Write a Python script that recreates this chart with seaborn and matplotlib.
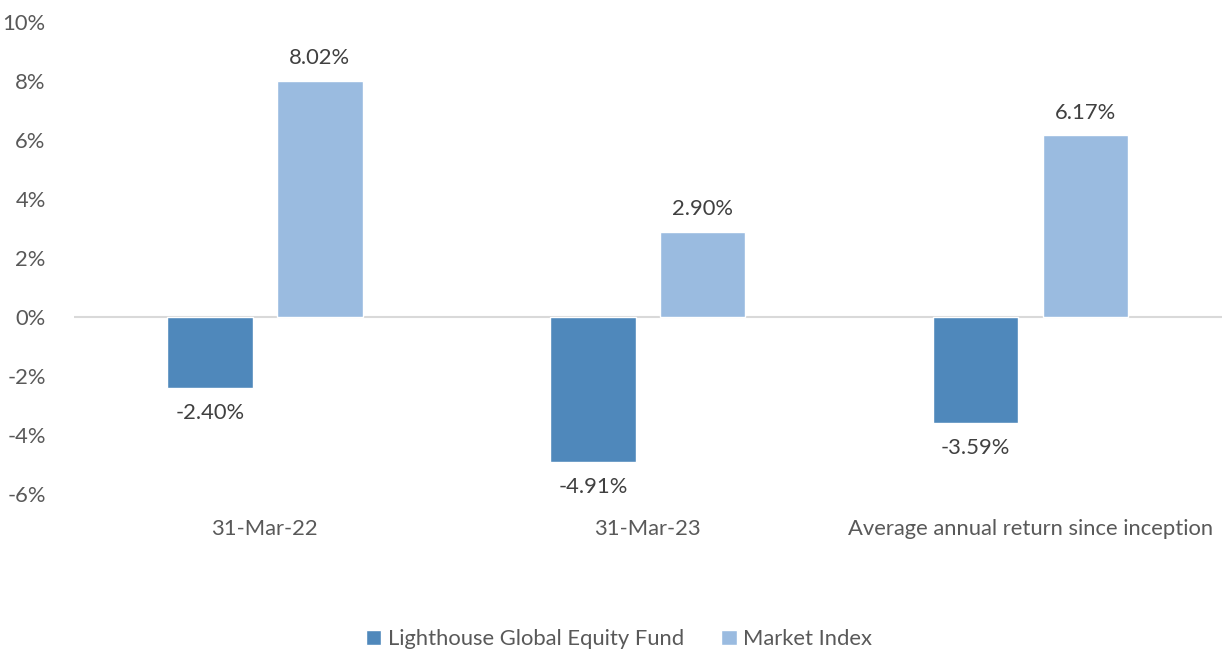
import pandas as pd
import numpy as np
import seaborn as sns
import matplotlib.pyplot as plt
from matplotlib.ticker import FuncFormatter

categories = ["31-Mar-22", "31-Mar-23", "Average annual return since inception"]
series = ["Lighthouse Global Equity Fund", "Market Index"]
fund = [-2.40, -4.91, -3.59]
index = [8.02, 2.90, 6.17]

df = pd.DataFrame({
    "period": categories * 2,
    "series": [series[0]] * 3 + [series[1]] * 3,
    "value": fund + index,
})

sns.set_theme(style="white")
plt.rcParams["font.family"] = ["Lato", "DejaVu Sans"]

fig = plt.figure(figsize=(12.25, 6.53), dpi=100)
ax = fig.add_axes([0.06, 0.2435, 0.9375, 0.7225])

palette = {series[0]: "#4F88BB", series[1]: "#9ABBE0"}
sns.barplot(data=df, x="period", y="value", hue="series", palette=palette,
            width=0.573, gap=0.22, saturation=1, ax=ax, legend=True)

fs = 15.8
ax.set_ylim(-6, 10)
ax.set_yticks(np.arange(-6, 11, 2))
ax.yaxis.set_major_formatter(FuncFormatter(lambda v, p: f"{v:.0f}%"))
ax.tick_params(axis="y", length=0, pad=20, labelsize=fs, labelcolor="#595959")
ax.tick_params(axis="x", length=0, pad=18, labelsize=fs, labelcolor="#595959")
ax.set_xlabel("")
ax.set_ylabel("")
for s in ax.spines.values():
    s.set_visible(False)
ax.axhline(0, color="#D9D9D9", lw=1.5, zorder=0)

# data labels above / below each bar
for cont in ax.containers:
    for bar in cont:
        v = bar.get_height()
        x = bar.get_x() + bar.get_width() / 2
        if v >= 0:
            ax.annotate(f"{v:.2f}%", (x, v), xytext=(0, 9), textcoords="offset points",
                        ha="center", va="bottom", fontsize=fs, color="#404040")
        else:
            ax.annotate(f"{v:.2f}%", (x, v), xytext=(0, -11), textcoords="offset points",
                        ha="center", va="top", fontsize=fs, color="#404040")

ax.legend(loc="upper center", bbox_to_anchor=(0.5 - 0.025, -0.245), ncol=2, frameon=False,
          fontsize=fs, handlelength=0.7, handleheight=0.7, handletextpad=0.3,
          columnspacing=1.7, labelcolor="#595959")

fig.savefig("out.png", dpi=100)
